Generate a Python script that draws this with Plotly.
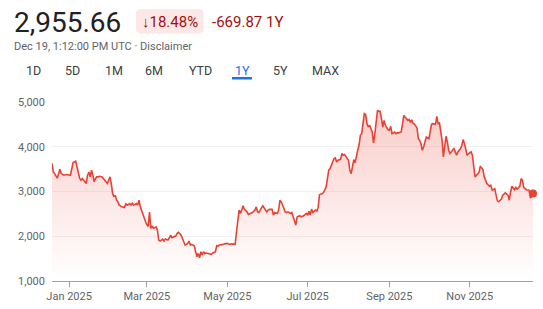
import pandas as pd
import plotly.graph_objects as go

# ---------------- data ----------------
START = "2024-12-19"
# day offset from START
DAY = [0, 1, 2, 4, 6, 7, 9, 11, 14, 15, 16, 18, 19, 20, 21, 22, 23, 24, 26, 27,
       28, 29, 30, 31, 32, 33, 34, 35, 36, 38, 39, 41, 42, 43, 44, 45, 46, 47, 48, 49,
       50, 51, 53, 55, 56, 57, 59, 60, 61, 62, 64, 65, 66, 67, 69, 70, 71, 72, 73, 74,
       75, 76, 77, 79, 80, 81, 82, 84, 85, 86, 88, 89, 90, 91, 93, 94, 95, 96, 98, 99,
       100, 101, 103, 104, 105, 106, 108, 109, 110, 111, 112, 113, 114, 115, 116, 117, 119, 120, 121, 122,
       124, 125, 126, 127, 129, 130, 131, 133, 134, 135, 136, 138, 139, 140, 141, 142, 143, 145, 146, 148,
       149, 151, 152, 154, 155, 156, 157, 159, 160, 162, 163, 164, 165, 167, 168, 169, 171, 172, 173, 174,
       176, 177, 178, 179, 181, 182, 183, 184, 185, 186, 188, 189, 191, 193, 194, 195, 196, 197, 198, 200,
       201, 202, 203, 205, 206, 208, 209, 210, 211, 212, 214, 215, 216, 217, 219, 220, 221, 222, 224, 225,
       226, 227, 228, 229, 230, 231, 232, 233, 234, 235, 236, 237, 238, 239, 240, 241, 243, 244, 245, 246,
       247, 248, 249, 250, 251, 252, 253, 255, 256, 257, 258, 260, 261, 262, 263, 265, 266, 267, 268, 270,
       271, 272, 273, 274, 275, 277, 278, 279, 280, 281, 282, 283, 284, 286, 287, 288, 289, 291, 292, 293,
       294, 295, 296, 297, 298, 299, 300, 301, 302, 303, 305, 306, 307, 308, 310, 311, 312, 313, 314, 315,
       316, 318, 319, 320, 321, 322, 323, 324, 325, 327, 328, 329, 330, 332, 333, 334, 336, 337, 338, 339,
       341, 342, 343, 344, 346, 347, 348, 349, 351, 352, 353, 355, 356, 357, 358, 359, 360, 362, 363, 364,
       365]
PRICE = [3630, 3437, 3400, 3297, 3497, 3400, 3364, 3380, 3364, 3513, 3647, 3676, 3549, 3364, 3290, 3252, 3290, 3252, 3178, 3364,
         3437, 3326, 3475, 3364, 3214, 3290, 3326, 3326, 3341, 3326, 3290, 3214, 3178, 3252, 3326, 3178, 2956, 2880, 2918, 2806,
         2768, 2695, 2657, 2643, 2732, 2695, 2732, 2695, 2740, 2695, 2732, 2695, 2806, 2657, 2472, 2398, 2323, 2260, 2220, 2540,
         2175, 2233, 2175, 2211, 2137, 1914, 1892, 1937, 1892, 1937, 1914, 1960, 2026, 1966, 1990, 2010, 2064, 2086, 2026, 1966,
         1877, 1803, 1840, 1892, 1803, 1818, 1788, 1653, 1542, 1617, 1520, 1653, 1580, 1653, 1610, 1625, 1610, 1617, 1595, 1625,
         1653, 1788, 1780, 1803, 1803, 1818, 1830, 1840, 1825, 1818, 1830, 1818, 1818, 2100, 2340, 2584, 2510, 2680, 2600, 2545,
         2487, 2510, 2530, 2584, 2657, 2545, 2530, 2635, 2680, 2584, 2545, 2584, 2600, 2600, 2472, 2530, 2510, 2584, 2806, 2770,
         2584, 2545, 2530, 2545, 2510, 2530, 2434, 2360, 2249, 2430, 2457, 2434, 2457, 2510, 2470, 2561, 2472, 2606, 2530, 2584,
         2561, 2650, 2933, 2950, 2978, 3100, 3326, 3480, 3513, 3587, 3736, 3750, 3661, 3700, 3720, 3848, 3810, 3825, 3736, 3700,
         3475, 3400, 3550, 3714, 3640, 3810, 3921, 4033, 4256, 4293, 4516, 4739, 4720, 4516, 4441, 4479, 4330, 4084, 4293, 4550,
         4813, 4790, 4790, 4628, 4441, 4590, 4479, 4380, 4368, 4456, 4293, 4330, 4290, 4310, 4310, 4330, 4479, 4702, 4660, 4590,
         4610, 4545, 4600, 4520, 4510, 4420, 4182, 4144, 4070, 3921, 3995, 4107, 4218, 4180, 4368, 4501, 4516, 4501, 4680, 4516,
         4530, 4368, 4144, 3772, 4070, 4234, 4110, 3921, 3848, 3885, 3959, 3885, 3810, 3885, 3959, 4033, 4160, 4070, 3900, 3810,
         3840, 3885, 3810, 3549, 3326, 3360, 3400, 3420, 3564, 3490, 3326, 3252, 3180, 3118, 3140, 3029, 3060, 2918, 2791, 2770,
         2830, 2918, 2950, 2970, 2918, 2806, 2990, 3118, 3040, 3090, 3050, 3120, 3290, 3250, 3089, 3060, 3040, 3030, 2850, 2900,
         2955.66]

X_TICK_DATES = ["2025-01-01", "2025-03-01", "2025-05-01", "2025-07-01", "2025-09-01", "2025-11-01"]
X_TICK_TEXT = ["Jan 2025", "Mar 2025", "May 2025", "Jul 2025", "Sep 2025", "Nov 2025"]
Y_TICKS = [1000, 2000, 3000, 4000, 5000]
Y_TICK_TEXT = ["1,000", "2,000", "3,000", "4,000", "5,000"]

PRICE_TEXT = "2,955.66"
CHANGE_PCT = "↓18.48%"
CHANGE_ABS = "-669.87 1Y"
SUBTITLE = "Dec 19, 1:12:00 PM UTC · Disclaimer"
TABS = ["1D", "5D", "1M", "6M", "YTD", "1Y", "5Y", "MAX"]
ACTIVE_TAB = "1Y"

# ---------------- figure ----------------
dates = pd.Timestamp(START) + pd.to_timedelta(DAY, unit="D")

W, H = 543, 309
ML, MR, MT, MB = 52, 10, 102, 28
PW, PH = W - ML - MR, H - MT - MB


def px(x):
    return (x - ML) / PW


def py(y):
    return (H - MB - y) / PH


RED = "#e94235"
FONT = "Roboto, Arial, sans-serif"

fig = go.Figure()
fig.add_trace(go.Scatter(
    x=dates, y=PRICE, mode="lines",
    line=dict(color=RED, width=1.6),
    fill="tozeroy",
    fillgradient=dict(type="vertical", start=1000, stop=4900,
                      colorscale=[[0, "rgba(234,67,53,0.0)"], [1, "rgba(234,67,53,0.27)"]]),
    hoverinfo="skip", showlegend=False,
))
fig.add_trace(go.Scatter(
    x=[dates[-1]], y=[PRICE[-1]], mode="markers",
    marker=dict(color=RED, size=8), cliponaxis=False,
    hoverinfo="skip", showlegend=False,
))

annotations = []
shapes = []

# header price
annotations.append(dict(x=px(12), y=py(22), xref="paper", yref="paper", text=PRICE_TEXT,
                        showarrow=False, xanchor="left", yanchor="middle",
                        font=dict(family=FONT, size=28, color="#202124")))
# badge
bx0, bx1, by0, by1, r = 136, 203.5, 9, 33.5, 5
path = (f"M {px(bx0 + r)},{py(by0)} L {px(bx1 - r)},{py(by0)} "
        f"Q {px(bx1)},{py(by0)} {px(bx1)},{py(by0 + r)} L {px(bx1)},{py(by1 - r)} "
        f"Q {px(bx1)},{py(by1)} {px(bx1 - r)},{py(by1)} L {px(bx0 + r)},{py(by1)} "
        f"Q {px(bx0)},{py(by1)} {px(bx0)},{py(by1 - r)} L {px(bx0)},{py(by0 + r)} "
        f"Q {px(bx0)},{py(by0)} {px(bx0 + r)},{py(by0)} Z")
shapes.append(dict(type="path", path=path, xref="paper", yref="paper",
                   fillcolor="#fce8e6", line=dict(width=0), layer="below"))
annotations.append(dict(x=px((bx0 + bx1) / 2), y=py(21.5), xref="paper", yref="paper", text=CHANGE_PCT,
                        showarrow=False, xanchor="center", yanchor="middle",
                        font=dict(family=FONT, size=15, color="#a50e0e")))
annotations.append(dict(x=px(210), y=py(21.5), xref="paper", yref="paper", text=CHANGE_ABS,
                        showarrow=False, xanchor="left", yanchor="middle",
                        font=dict(family=FONT, size=15, color="#a50e0e")))
annotations.append(dict(x=px(12), y=py(46), xref="paper", yref="paper", text=SUBTITLE,
                        showarrow=False, xanchor="left", yanchor="middle",
                        font=dict(family=FONT, size=11, color="#5f6368")))

# tabs
TAB_X = [33, 72, 114, 154, 200, 242, 280, 325]
for t, x in zip(TABS, TAB_X):
    active = t == ACTIVE_TAB
    annotations.append(dict(x=px(x), y=py(70), xref="paper", yref="paper", text=t,
                            showarrow=False, xanchor="center", yanchor="middle",
                            font=dict(family=FONT, size=12.5,
                                      color="#1a73e8" if active else "#3c4043")))
    if active:
        shapes.append(dict(type="rect", xref="paper", yref="paper",
                           x0=px(x - 10), x1=px(x + 10), y0=py(79.5), y1=py(77),
                           fillcolor="#1a73e8", line=dict(width=0)))

fig.update_layout(
    width=W, height=H,
    margin=dict(l=ML, r=MR, t=MT, b=MB, pad=0, autoexpand=False),
    paper_bgcolor="white", plot_bgcolor="white",
    font=dict(family=FONT, size=11, color="#5f6368"),
    annotations=annotations, shapes=shapes,
    xaxis=dict(
        range=[dates[0], dates[-1]],
        tickvals=X_TICK_DATES, ticktext=X_TICK_TEXT,
        showgrid=False, zeroline=False, automargin=False,
        showline=True, linecolor="#a0a4a8", linewidth=1,
        ticks="outside", ticklen=5, tickcolor="#a0a4a8", tickwidth=1,
        tickfont=dict(family=FONT, size=11, color="#5f6368"),
        fixedrange=True,
    ),
    yaxis=dict(
        range=[1000, 5000],
        tickvals=Y_TICKS, ticktext=Y_TICK_TEXT,
        showgrid=True, gridcolor="#f1f1f1", gridwidth=1,
        zeroline=False, showline=False, ticks="", automargin=False,
        ticklabelstandoff=6,
        tickfont=dict(family=FONT, size=11, color="#5f6368"),
        fixedrange=True,
    ),
)

fig.write_html("out.html", config={"displayModeBar": False})
